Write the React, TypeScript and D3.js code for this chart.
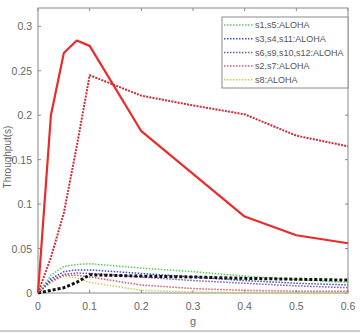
import React, { useEffect, useRef } from 'react';
import * as d3 from 'd3';

const gValues = [0, 0.025, 0.05, 0.075, 0.1, 0.2, 0.3, 0.4, 0.5, 0.6];

// dotted ALOHA curves (legend entries)
const s1s5 = [0, 0.02, 0.03, 0.032, 0.033, 0.028, 0.024, 0.019, 0.015, 0.012];
const s3s4s11 = [0, 0.016, 0.024, 0.026, 0.026, 0.022, 0.018, 0.014, 0.011, 0.009];
const s6s9s10s12 = [0, 0.014, 0.021, 0.0225, 0.022, 0.018, 0.014, 0.011, 0.008, 0.006];
const s2s7 = [0, 0.013, 0.02, 0.02, 0.018, 0.009, 0.005, 0.003, 0.002, 0.002];
const s8 = [0, 0.012, 0.019, 0.017, 0.012, 0.003, 0.001, 0.0005, 0.0003, 0.0002];

// unlabelled curves
const redSolid = [0, 0.2, 0.27, 0.284, 0.278, 0.182, 0.134, 0.086, 0.065, 0.056];
const redDashed = [0, 0.04, 0.09, 0.165, 0.245, 0.222, 0.211, 0.201, 0.177, 0.165];
const blackThick = [0, 0.003, 0.006, 0.012, 0.0205, 0.019, 0.018, 0.0165, 0.0155, 0.0145];

const legendNames = ['s1,s5:ALOHA', 's3,s4,s11:ALOHA', 's6,s9,s10,s12:ALOHA', 's2,s7:ALOHA', 's8:ALOHA'];
const xTicks = [0, 0.1, 0.2, 0.3, 0.4, 0.5, 0.6];
const yTicks = [0, 0.05, 0.1, 0.15, 0.2, 0.25, 0.3];

const W = 360;
const H = 333;

const Chart = () => {
    const ref = useRef<SVGSVGElement>(null);

    useEffect(() => {
        const svg = d3.select(ref.current);
        svg.selectAll('*').remove();

        const left = 38, right = 348, top = 8, bottom = 293;
        const x = d3.scaleLinear().domain([0, 0.6]).range([left, right]);
        const y = d3.scaleLinear().domain([0, 0.3]).range([bottom, bottom - 0.3 * 888.9]);

        svg.append('rect').attr('width', W).attr('height', H).attr('fill', '#fff');

        // axes box
        svg.append('rect')
            .attr('x', left).attr('y', top)
            .attr('width', right - left).attr('height', bottom - top)
            .attr('fill', 'none').attr('stroke', '#8a8a8a').attr('stroke-width', 1);

        const font = 'Liberation Sans, Arial, sans-serif';

        // x ticks (matlab style, inward, top and bottom)
        const xt = svg.append('g');
        xTicks.forEach(t => {
            xt.append('line').attr('x1', x(t)).attr('x2', x(t)).attr('y1', bottom).attr('y2', bottom - 3).attr('stroke', '#8a8a8a');
            xt.append('line').attr('x1', x(t)).attr('x2', x(t)).attr('y1', top).attr('y2', top + 3).attr('stroke', '#8a8a8a');
            xt.append('text').attr('x', x(t)).attr('y', bottom + 17)
                .attr('text-anchor', 'middle').attr('font-family', font).attr('font-size', 10.5)
                .attr('fill', '#666').text(d3.format('')(t));
        });

        const yt = svg.append('g');
        yTicks.forEach(t => {
            yt.append('line').attr('x1', left).attr('x2', left + 3).attr('y1', y(t)).attr('y2', y(t)).attr('stroke', '#8a8a8a');
            yt.append('line').attr('x1', right).attr('x2', right - 3).attr('y1', y(t)).attr('y2', y(t)).attr('stroke', '#8a8a8a');
            yt.append('text').attr('x', left - 6).attr('y', y(t) + 4)
                .attr('text-anchor', 'end').attr('font-family', font).attr('font-size', 10.5)
                .attr('fill', '#666').text(d3.format('')(t));
        });

        svg.append('text').attr('x', 193).attr('y', 325).attr('text-anchor', 'middle')
            .attr('font-family', font).attr('font-size', 11).attr('fill', '#666').text('g');
        svg.append('text').attr('transform', 'translate(11,157) rotate(-90)').attr('text-anchor', 'middle')
            .attr('font-family', font).attr('font-size', 10).attr('fill', '#666').text('Throughput(s)');

        const line = d3.line<number>().x((_, i) => x(gValues[i])).y(d => y(d));

        const series = [
            { v: s8, color: '#c9cc52', w: 1.5, dash: '1.5 1.5' },
            { v: s2s7, color: '#d9556a', w: 1.5, dash: '1.5 1.5' },
            { v: s6s9s10s12, color: '#7d55b4', w: 1.5, dash: '1.5 1.5' },
            { v: s3s4s11, color: '#3a4fd0', w: 1.5, dash: '1.5 1.5' },
            { v: s1s5, color: '#55d055', w: 1.5, dash: '1.5 1.5' },
            { v: blackThick, color: '#111', w: 3, dash: '3 2' },
            { v: redDashed, color: '#d1283a', w: 2, dash: '2 1.2' },
            { v: redSolid, color: '#ec2a2a', w: 2.2, dash: null },
        ];

        series.forEach(s => {
            svg.append('path').attr('d', line(s.v))
                .attr('fill', 'none').attr('stroke', s.color).attr('stroke-width', s.w)
                .attr('stroke-dasharray', s.dash).attr('stroke-linejoin', 'round');
        });

        // legend
        const legendColors = ['#55d055', '#3a4fd0', '#7d55b4', '#d9556a', '#c9cc52'];
        const lg = svg.append('g');
        lg.append('rect').attr('x', 222).attr('y', 17).attr('width', 126).attr('height', 71)
            .attr('fill', '#fff').attr('stroke', '#8a8a8a');
        legendNames.forEach((name, i) => {
            const ly = 25 + i * 13.7;
            lg.append('line').attr('x1', 224).attr('x2', 253).attr('y1', ly).attr('y2', ly)
                .attr('stroke', legendColors[i]).attr('stroke-width', 1.5).attr('stroke-dasharray', '1.5 1.5');
            lg.append('text').attr('x', 255).attr('y', ly + 3.3)
                .attr('font-family', font).attr('font-size', 9).attr('fill', '#555').text(name);
        });

        // bottom image border
        svg.append('line').attr('x1', 0).attr('x2', W).attr('y1', 331).attr('y2', 331)
            .attr('stroke', '#bbb').attr('stroke-width', 1.5);
    }, []);

    return <svg ref={ref} width={W} height={H} style={{ position: 'absolute', left: 0, top: 0 }} />;
};

export default function App() {
    return <Chart />;
}
